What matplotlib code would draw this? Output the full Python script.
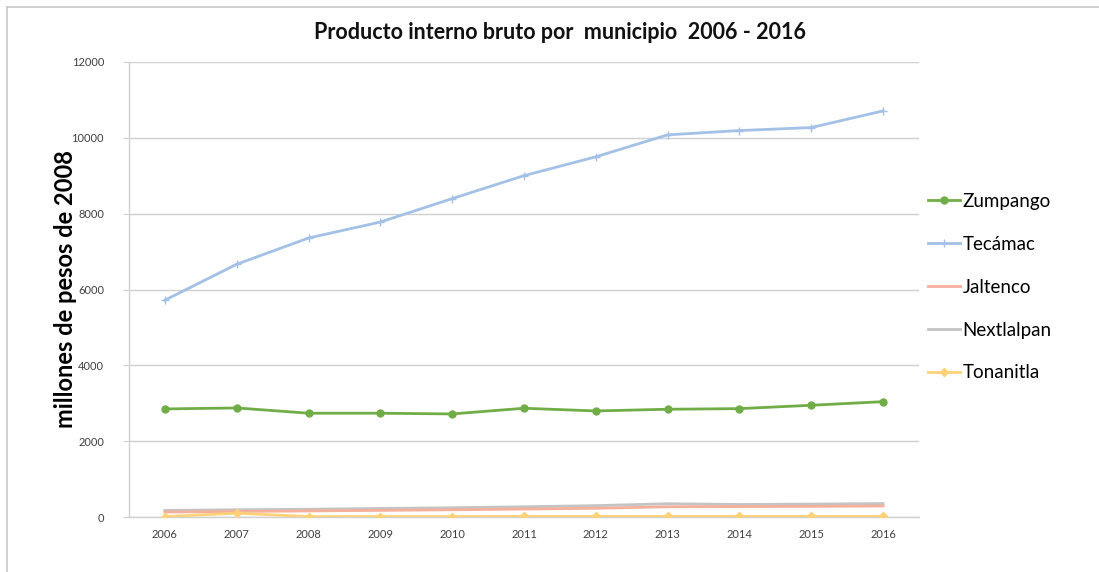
import numpy as np
import matplotlib
matplotlib.use("Agg")
import matplotlib.pyplot as plt
from matplotlib.lines import Line2D

plt.rcParams['font.family'] = ['Lato', 'DejaVu Sans']

# PIB por municipio (millones de pesos de 2008)
years = [2006, 2007, 2008, 2009, 2010, 2011, 2012, 2013, 2014, 2015, 2016]
zumpango = [2850, 2876, 2737, 2737, 2718, 2868, 2797, 2842, 2858, 2947, 3042]
tecamac = [5718, 6666, 7358, 7779, 8397, 9003, 9500, 10079, 10192, 10271, 10711]
jaltenco = [130, 145, 160, 175, 190, 210, 230, 270, 275, 280, 290]
nextlalpan = [175, 190, 205, 225, 245, 270, 300, 350, 330, 340, 355]
tonanitla = [10, 100, 12, 12, 12, 15, 15, 15, 15, 15, 15]

fig = plt.figure(figsize=(10.99, 5.72), dpi=100)
ax = fig.add_axes([129 / 1099, 55 / 572, 790 / 1099, 455 / 572])

ax.plot(years, zumpango, color='#70ad47', lw=2.0, marker='o', ms=5, label='Zumpango', zorder=5)
ax.plot(years, tecamac, color='#a3c1e6', lw=2.0, marker='+', ms=6, mew=1, label='Tecámac', zorder=5)
ax.plot(years, jaltenco, color='#f4b09a', lw=2.0, label='Jaltenco', zorder=4)
ax.plot(years, nextlalpan, color='#c4c4c4', lw=2.0, label='Nextlalpan', zorder=3)
ax.plot(years, tonanitla, color='#ffd27a', lw=2.0, marker='D', ms=4, label='Tonanitla', zorder=6)

ax.set_xlim(2005.5, 2016.5)
ax.set_ylim(0, 12000)
ax.set_xticks(years)
ax.set_xticklabels([str(y) for y in years])
ax.set_yticks(np.arange(0, 12001, 2000))
ax.tick_params(axis='x', length=0, labelsize=8, colors='#404040', pad=9)
ax.tick_params(axis='y', length=4, width=0.8, color='#d0d0d0', labelsize=8, labelcolor='#404040', pad=14)
ax.grid(axis='y', color='#d0d0d0', lw=1)
ax.set_axisbelow(True)
for side in ['top', 'right']:
    ax.spines[side].set_visible(False)
for side in ['left', 'bottom']:
    ax.spines[side].set_color('#d0d0d0')
    ax.spines[side].set_linewidth(1)

ax.set_ylabel('millones de pesos de 2008', fontsize=17, fontweight='bold')
ax.yaxis.set_label_coords(-0.066, 0.5)

fig.text(0.510, 0.944, 'Producto interno bruto por  municipio  2006 - 2016',
         ha='center', va='center', fontsize=15.5, fontweight='bold', color='#111111')

ax.legend(loc='center left', bbox_to_anchor=(0.99, 0.505), frameon=False,
          fontsize=13.5, handlelength=1.7, handletextpad=0.15, labelspacing=1.38)

# chart frame, left and top edges
fig.add_artist(Line2D([7 / 1099, 7 / 1099], [0, 1 - 7 / 572], color='#c8c8c8', lw=1.2))
fig.add_artist(Line2D([7 / 1099, 1], [1 - 7 / 572, 1 - 7 / 572], color='#c8c8c8', lw=1.2))

fig.savefig('out.png', dpi=100)
